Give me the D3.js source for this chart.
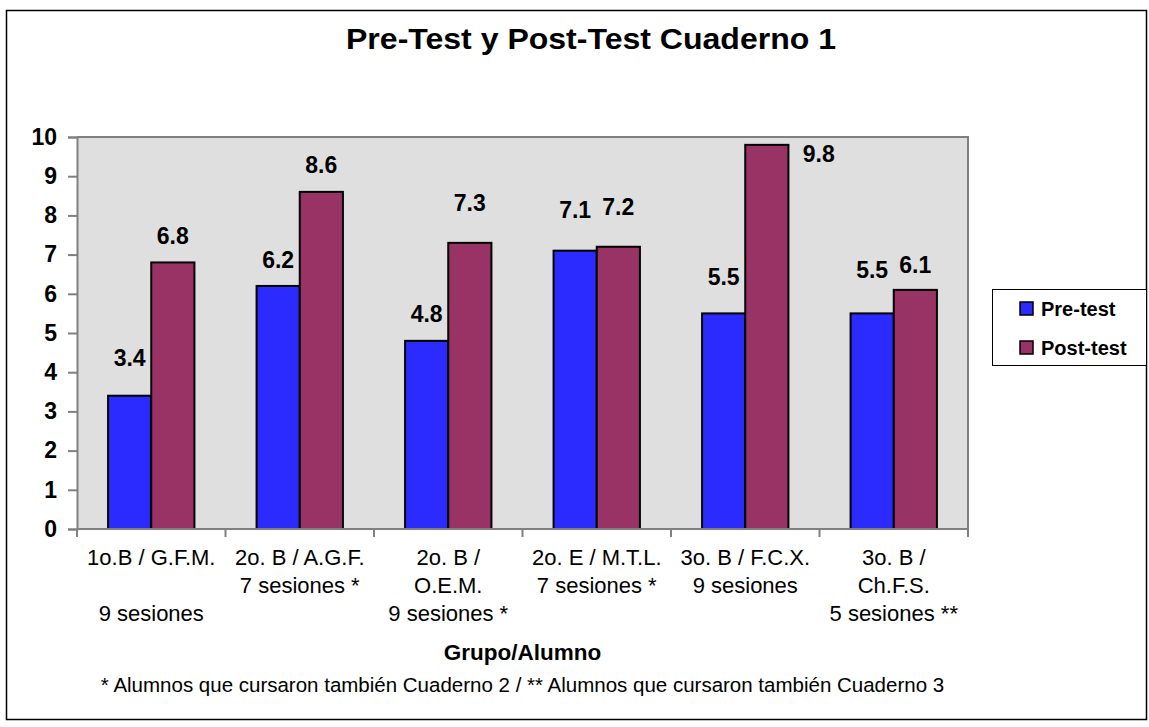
<!DOCTYPE html>
<html>
<head>
<meta charset="utf-8">
<script src="https://cdn.jsdelivr.net/npm/d3@7"></script>
<style>
  html, body { margin: 0; padding: 0; background: #fff; }
  svg { display: block; font-family: Arial, "Liberation Sans", sans-serif; }
</style>
</head>
<body>
<svg id="chart" width="1149" height="727"></svg>
<script>
// ---- data ----
const categories = ["G1", "G2", "G3", "G4", "G5", "G6"];
const categoryLabels = [
  ["1o.B / G.F.M.", "", "9 sesiones"],
  ["2o. B / A.G.F.", "7 sesiones *"],
  ["2o. B /", "O.E.M.", "9 sesiones *"],
  ["2o. E / M.T.L.", "7 sesiones *"],
  ["3o. B / F.C.X.", "9 sesiones"],
  ["3o. B /", "Ch.F.S.", "5 sesiones **"]
];
const seriesNames = ["Pre-test", "Post-test"];
const preTest = [3.4, 6.2, 4.8, 7.1, 5.5, 5.5];
const postTest = [6.8, 8.6, 7.3, 7.2, 9.8, 6.1];
const yTicks = [0, 1, 2, 3, 4, 5, 6, 7, 8, 9, 10];
const titleText = "Pre-Test y Post-Test Cuaderno 1";
const xAxisTitle = "Grupo/Alumno";
const footnote = "* Alumnos que cursaron también Cuaderno 2 / ** Alumnos que cursaron también Cuaderno 3";

// ---- layout / style (not data) ----
const colors = ["#2b2bff", "#993366"];
// label nudges (dx, dy above bar top) per series, per category
const labelNudge = [
  [[0, 30], [0, 18], [0, 19], [0, 33], [0, 28], [0, 35]],
  [[0, 18], [0, 19], [0, 32], [0, 32], [52, -17], [0, 17]]
];

const plot = { left: 77, top: 137, right: 968, bottom: 529 };
const svg = d3.select("#chart");

// outer border
svg.append("rect").attr("x", 6.5).attr("y", 10.5).attr("width", 1140).attr("height", 709)
  .attr("fill", "#fff").attr("stroke", "#000").attr("stroke-width", 1.5);

// title
svg.append("text").attr("x", 346).attr("y", 49).attr("text-anchor", "start")
  .attr("font-size", 29).attr("font-weight", "bold")
  .attr("textLength", 490).attr("lengthAdjust", "spacingAndGlyphs").text(titleText);

const x = d3.scaleBand().domain(categories).range([plot.left, plot.right]).padding(0);
const xInner = d3.scaleBand().domain(seriesNames).range([0, x.bandwidth()])
  .paddingInner(0).paddingOuter(0.72);
const y = d3.scaleLinear().domain([0, 10]).range([plot.bottom, plot.top]);

// plot background
svg.append("rect").attr("x", plot.left).attr("y", plot.top)
  .attr("width", plot.right - plot.left).attr("height", plot.bottom - plot.top)
  .attr("fill", "#dfdfdf");
svg.append("path")
  .attr("d", `M${plot.left},${plot.top}H${plot.right}V${plot.bottom}`)
  .attr("fill", "none").attr("stroke", "#808080").attr("stroke-width", 2);

// bars
const series = [preTest, postTest];
series.forEach((vals, si) => {
  svg.append("g").selectAll("rect").data(vals).join("rect")
    .attr("x", (d, i) => x(categories[i]) + xInner(seriesNames[si]))
    .attr("y", d => y(d))
    .attr("width", xInner.bandwidth())
    .attr("height", d => y(0) - y(d))
    .attr("fill", colors[si])
    .attr("stroke", "#000").attr("stroke-width", 2);
});

// y axis
const yAxis = svg.append("g").attr("transform", `translate(${plot.left},0)`)
  .call(d3.axisLeft(y).tickValues(yTicks).tickSize(9).tickPadding(11).tickFormat(d3.format("d")));
yAxis.select(".domain").attr("stroke", "#808080").attr("stroke-width", 2);
yAxis.selectAll(".tick line").attr("stroke", "#808080").attr("stroke-width", 2);
yAxis.selectAll(".tick text").attr("font-size", 23).attr("font-weight", "bold")
  .attr("fill", "#000").attr("font-family", "Arial, 'Liberation Sans', sans-serif");

// x axis line + boundary ticks
const bounds = categories.map(c => x(c)).concat([plot.right]);
svg.append("line").attr("x1", plot.left).attr("x2", plot.right)
  .attr("y1", plot.bottom).attr("y2", plot.bottom)
  .attr("stroke", "#808080").attr("stroke-width", 2);
svg.append("g").selectAll("line").data(bounds).join("line")
  .attr("x1", d => d).attr("x2", d => d)
  .attr("y1", plot.bottom).attr("y2", plot.bottom + 8)
  .attr("stroke", "#808080").attr("stroke-width", 2);

// x category labels
const xl = svg.append("g");
categoryLabels.forEach((lines, i) => {
  const cx = x(categories[i]) + x.bandwidth() / 2;
  const t = xl.append("text").attr("text-anchor", "middle").attr("font-size", 22)
    .attr("x", cx).attr("y", 565);
  lines.forEach((ln, k) => {
    t.append("tspan").attr("x", cx)
      .attr("dy", k === 0 ? 0 : 28).text(ln === "" ? "\u00a0" : ln);
  });
});

// value labels
series.forEach((vals, si) => {
  svg.append("g").selectAll("text").data(vals).join("text")
    .attr("text-anchor", "middle").attr("font-size", 23).attr("font-weight", "bold")
    .attr("x", (d, i) => x(categories[i]) + xInner(seriesNames[si]) + xInner.bandwidth() / 2 + labelNudge[si][i][0])
    .attr("y", (d, i) => y(d) - labelNudge[si][i][1])
    .text(d => d3.format(".1f")(d));
});

// axis title + footnote
const axisCenter = (plot.left + plot.right) / 2;
svg.append("text").attr("x", axisCenter).attr("y", 660).attr("text-anchor", "middle")
  .attr("font-size", 22.5).attr("font-weight", "bold").text(xAxisTitle);
svg.append("text").attr("x", axisCenter).attr("y", 692).attr("text-anchor", "middle")
  .attr("font-size", 20.5).text(footnote);

// legend
const lg = svg.append("g");
lg.append("rect").attr("x", 992.5).attr("y", 289.5).attr("width", 154).attr("height", 76)
  .attr("fill", "#fff").attr("stroke", "#000").attr("stroke-width", 1);
seriesNames.forEach((s, i) => {
  lg.append("rect").attr("x", 1020).attr("y", 302 + i * 39).attr("width", 13).attr("height", 13)
    .attr("fill", colors[i]).attr("stroke", "#000").attr("stroke-width", 1.5);
  lg.append("text").attr("x", 1041).attr("y", 316 + i * 39).attr("font-size", 20)
    .attr("font-weight", "bold").text(s);
});
</script>
</body>
</html>
